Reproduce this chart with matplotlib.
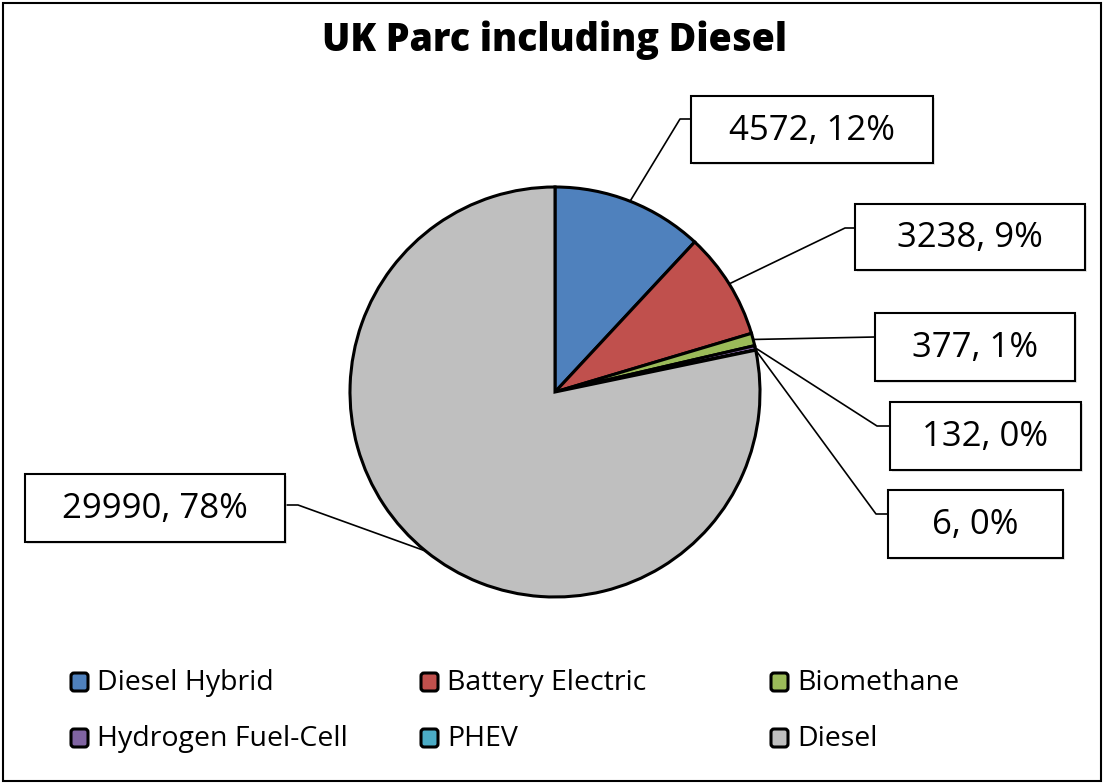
import matplotlib
matplotlib.use("Agg")
import matplotlib.pyplot as plt
from matplotlib.patches import Rectangle, FancyBboxPatch
import numpy as np

categories = ["Diesel Hybrid", "Battery Electric", "Biomethane",
              "Hydrogen Fuel-Cell", "PHEV", "Diesel"]
values = [4572, 3238, 377, 132, 6, 29990]
percent_labels = ["12%", "9%", "1%", "0%", "0%", "78%"]
colors = ["#4F81BD", "#C0504D", "#9BBB59", "#8064A2", "#4BACC6", "#BFBFBF"]
title = "UK Parc including Diesel"

plt.rcParams['font.family'] = ['Open Sans', 'DejaVu Sans']

W, H = 1105, 784
fig = plt.figure(figsize=(W / 100, H / 100), dpi=100)
ax = fig.add_axes([0, 0, 1, 1])
ax.set_xlim(0, W)
ax.set_ylim(0, H)
ax.set_aspect('equal')
ax.axis('off')

def Y(y):
    return H - y

# outer border
ax.add_patch(Rectangle((3, Y(781)), 1098, 778, fill=False, lw=1.5, ec='black'))

cx, cy, r = 555, Y(392), 205
wedges, _ = ax.pie(values, colors=colors, startangle=90, counterclock=False,
                   center=(cx, cy), radius=r,
                   wedgeprops=dict(edgecolor='black', linewidth=2.2))
ax.set_xlim(0, W)
ax.set_ylim(0, H)

ax.text(555, Y(40), title, ha='center', va='center', fontsize=27,
        fontweight=800)

# label boxes (x0, y0, x1, y1) in pixel coords (y down), and leader elbow
boxes = [
    (691, 96, 933, 163),
    (855, 204, 1085, 270),
    (875, 313, 1075, 381),
    (890, 402, 1081, 470),
    (888, 490, 1063, 558),
    (25, 474, 285, 542),
]
elbows = [
    ((680, 119), (691, 119)),
    ((845, 228), (855, 228)),
    ((875, 337), (875, 337)),
    ((877, 426), (890, 426)),
    ((876, 514), (888, 514)),
    ((298, 505), (285, 505)),
]
for i, (w, val, pl) in enumerate(zip(wedges, values, percent_labels)):
    x0, y0, x1, y1 = boxes[i]
    ang = np.deg2rad((w.theta1 + w.theta2) / 2)
    px, py = cx + r * np.cos(ang), cy + r * np.sin(ang)
    (ex, ey), (bx, by) = elbows[i]
    ax.plot([px, ex, bx], [py, Y(ey), Y(by)], color='black', lw=1.2, zorder=3)
    ax.add_patch(Rectangle((x0 + 2, Y(y1) - 2), x1 - x0, y1 - y0,
                           fc='#d8d8d8', ec='none', zorder=3, alpha=0.6))
    ax.add_patch(Rectangle((x0, Y(y1)), x1 - x0, y1 - y0, fc='white',
                           ec='black', lw=1.5, zorder=4))
    ax.text((x0 + x1) / 2, Y((y0 + y1) / 2) - 1, f"{val}, {pl}", ha='center',
            va='center', fontsize=25, zorder=5)

# legend (grid 3 x 2)
col_x = [69, 419, 769]
row_y = [682, 738]
for i, (cat, c) in enumerate(zip(categories, colors)):
    x = col_x[i % 3]
    y = row_y[i // 3]
    ax.add_patch(FancyBboxPatch((x + 2, Y(y + 9)), 17, 18,
                                boxstyle="round,pad=0,rounding_size=3",
                                fc=c, ec='black', lw=2.2))
    ax.text(x + 28, Y(y) - 1, cat, ha='left', va='center', fontsize=20.5)

fig.savefig("out.png", dpi=100)
